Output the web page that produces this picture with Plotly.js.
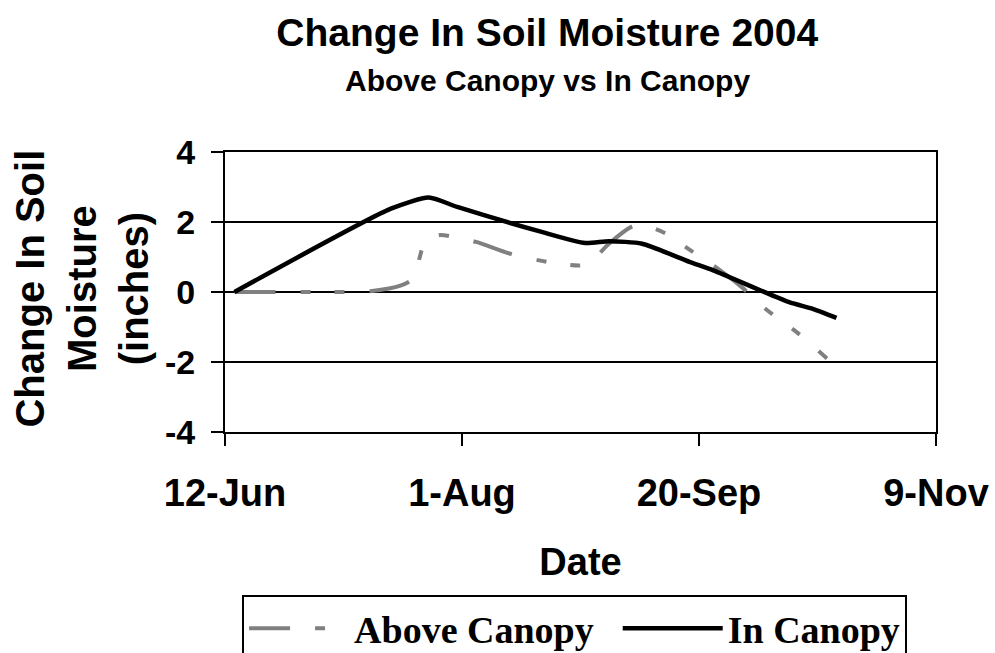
<!DOCTYPE html>
<html>
<head>
<meta charset="utf-8">
<script src="https://cdn.plot.ly/plotly-3.0.1.min.js"></script>
<style>
html,body{margin:0;padding:0;background:#ffffff;}
#chart{width:995px;height:653px;}
</style>
</head>
<body>
<div id="chart"></div>
<script>
// ---- data ----
const aboveDates = ['2004-06-14','2004-07-01','2004-07-13','2004-07-19','2004-07-22','2004-07-23','2004-07-24','2004-07-27','2004-07-30','2004-08-04','2004-08-11','2004-08-19','2004-08-26','2004-08-28','2004-09-01','2004-09-06','2004-09-08','2004-09-10','2004-09-13','2004-09-18','2004-09-23','2004-09-29','2004-10-04','2004-10-11','2004-10-17'];
const aboveValues = [0, 0, 0.03, 0.18, 0.42, 0.95, 1.35, 1.62, 1.58, 1.43, 1.10, 0.86, 0.76, 0.84, 1.38, 1.88, 1.93, 1.84, 1.67, 1.21, 0.76, 0.14, -0.48, -1.19, -1.90];

const inDates = ['2004-06-14','2004-07-17','2004-07-25','2004-07-31','2004-08-18','2004-08-27','2004-09-01','2004-09-08','2004-09-18','2004-09-23','2004-10-09','2004-10-14','2004-10-19'];
const inValues = [0, 2.38, 2.70, 2.43, 1.71, 1.40, 1.45, 1.38, 0.86, 0.62, -0.29, -0.48, -0.74];

const xTickDates = ['2004-06-12','2004-08-01','2004-09-20','2004-11-09'];
const xTickLabels = ['12-Jun','1-Aug','20-Sep','9-Nov'];
const yTickValues = [-4, -2, 0, 2, 4];
const yTickLabels = ['-4', '-2', '0', '2', '4'];

const seriesNames = ['Above Canopy', 'In Canopy'];
const titleText = 'Change In Soil Moisture 2004';
const subtitleText = 'Above Canopy vs In Canopy';
const xTitle = 'Date';
const yTitle = 'Change In Soil<br>Moisture<br>(inches)';

// ---- chart ----
const sans = 'Liberation Sans, Arial, sans-serif';
const serif = 'Liberation Serif, Times New Roman, serif';
const legendPad = '\u00a0\u00a0';

const traces = [
  {
    x: aboveDates, y: aboveValues, name: seriesNames[0] + legendPad, type: 'scatter', mode: 'lines',
    line: {color: '#808080', width: 4, dash: '41px,25px,10px,24px,10px,25px', shape: 'spline', smoothing: 0.8}
  },
  {
    x: inDates, y: inValues, name: seriesNames[1], type: 'scatter', mode: 'lines',
    line: {color: '#000000', width: 4.5, shape: 'spline', smoothing: 0.6}
  }
];

const layout = {
  width: 995, height: 653,
  paper_bgcolor: '#ffffff', plot_bgcolor: '#ffffff',
  margin: {l: 225, r: 59, t: 152, b: 221, autoexpand: false},
  title: {
    text: titleText,
    font: {family: sans, size: 39, color: '#000', weight: 700},
    x: 0.55, xanchor: 'center', y: 0.972, yanchor: 'top'
  },
  annotations: [
    {
      text: subtitleText, xref: 'paper', yref: 'paper',
      x: 0.4529, xanchor: 'center', y: 1.257, yanchor: 'middle',
      showarrow: false,
      font: {family: sans, size: 30, color: '#000', weight: 700}
    },
    {
      text: yTitle, xref: 'paper', yref: 'paper',
      x: -0.2025, xanchor: 'center', y: 0.5125, yanchor: 'middle',
      textangle: -90, align: 'center', showarrow: false,
      font: {family: sans, size: 40, color: '#000', weight: 700}
    }
  ],
  xaxis: {
    type: 'date',
    range: [xTickDates[0], xTickDates[3]],
    tickmode: 'array', tickvals: xTickDates, ticktext: xTickLabels,
    ticks: 'outside', ticklen: 12, tickwidth: 2, tickcolor: '#000',
    showline: true, linecolor: '#000', linewidth: 2, mirror: true,
    showgrid: false, zeroline: false,
    tickfont: {family: sans, size: 38, color: '#000', weight: 700},
    ticklabelstandoff: 14,
    title: {text: xTitle, standoff: 36, font: {family: sans, size: 38, color: '#000', weight: 700}}
  },
  yaxis: {
    range: [-4, 4],
    tickmode: 'array', tickvals: yTickValues, ticktext: yTickLabels,
    ticks: 'outside', ticklen: 12, tickwidth: 2, tickcolor: '#000',
    showline: true, linecolor: '#000', linewidth: 2, mirror: true,
    showgrid: true, gridcolor: '#000', gridwidth: 1.5, zeroline: false,
    tickfont: {family: sans, size: 34, color: '#000', weight: 700},
    ticklabelstandoff: 9
  },
  showlegend: true,
  legend: {
    orientation: 'h',
    x: 0.024, xanchor: 'left',
    y: -0.582, yanchor: 'top',
    bgcolor: '#ffffff', bordercolor: '#000', borderwidth: 2,
    font: {family: serif, size: 38, color: '#000', weight: 700},
    itemwidth: 100
  }
};

Plotly.newPlot('chart', traces, layout, {staticPlot: true, displayModeBar: false});
</script>
</body>
</html>
